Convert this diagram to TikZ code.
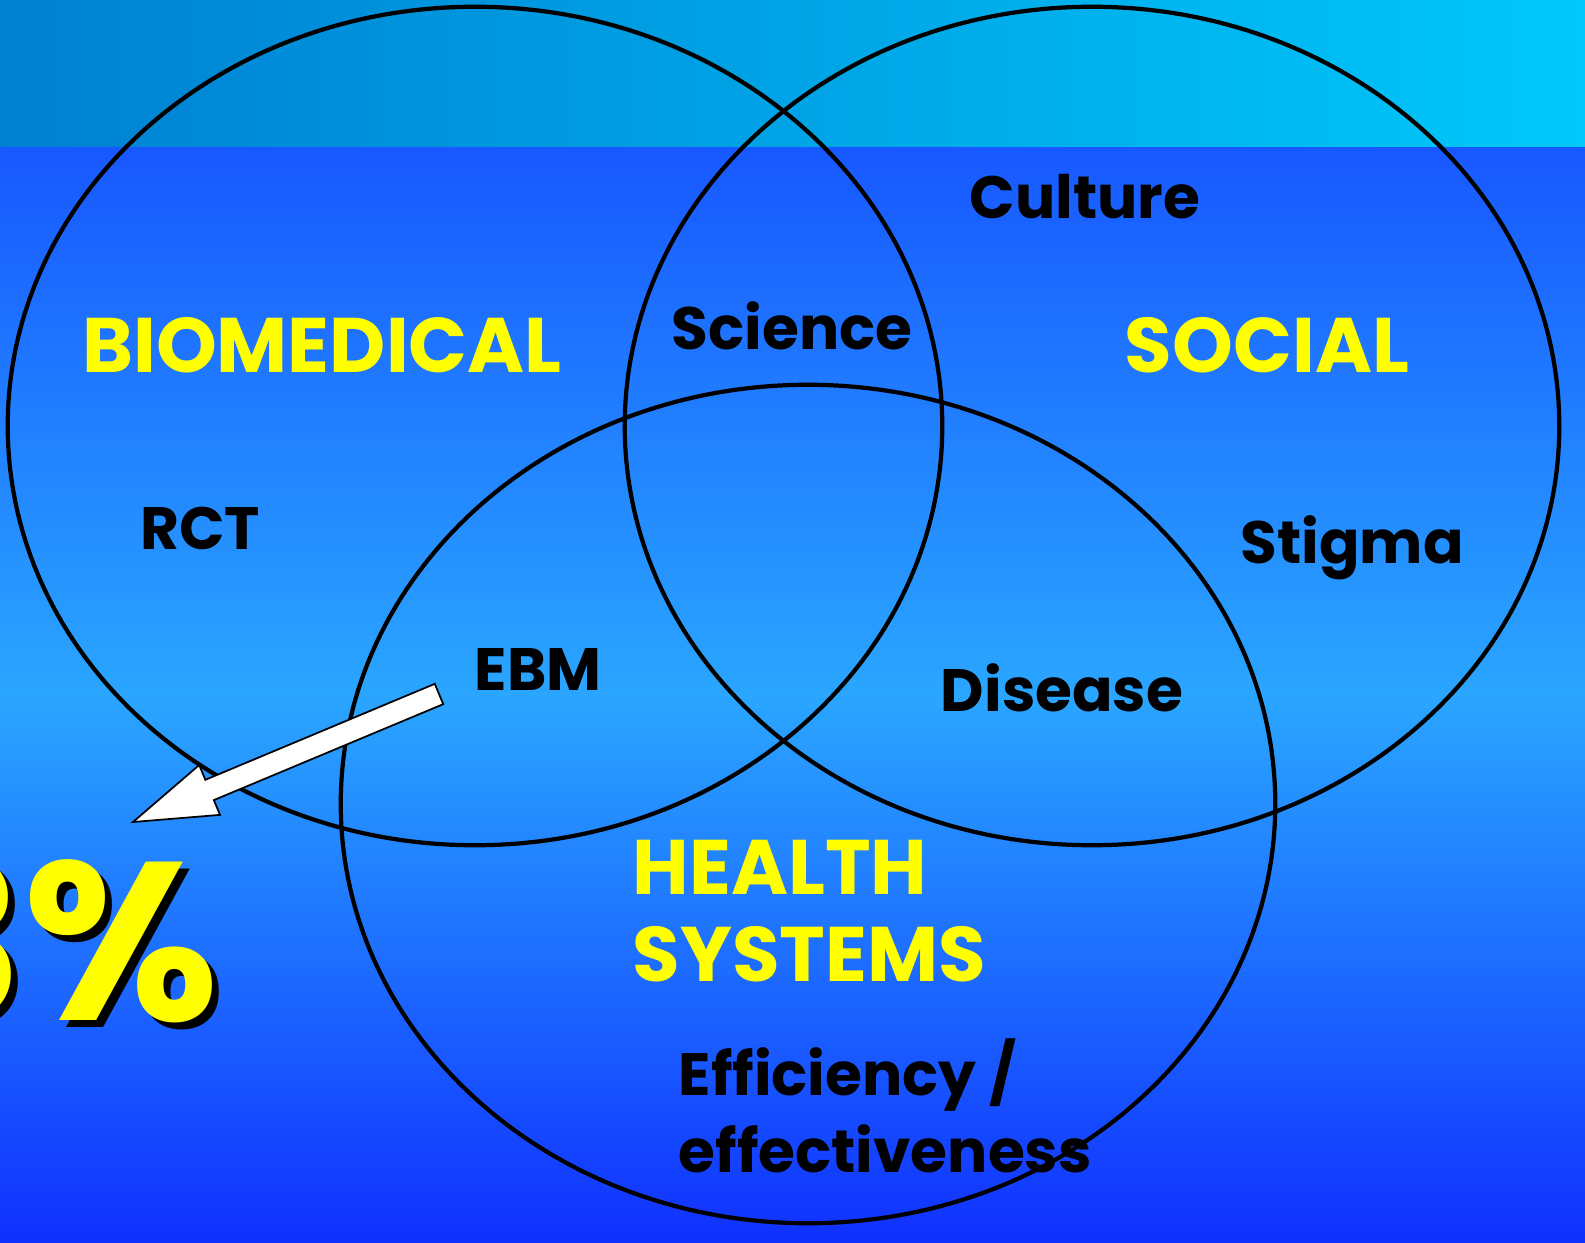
\documentclass[tikz,border=0pt]{standalone}
\usepackage{fontspec}
\setmainfont{Poppins}
\usetikzlibrary{calc,shapes.geometric}
\definecolor{bandleft}{RGB}{0,128,210}
\definecolor{bandright}{RGB}{0,200,250}
\definecolor{skytop}{RGB}{24,88,255}
\definecolor{skymid}{RGB}{42,166,255}
\definecolor{skybot}{RGB}{16,48,255}
\definecolor{sun}{RGB}{255,255,0}
\tikzset{
    ring/.style={draw=black, line width=1.2pt, ellipse, inner sep=0pt,
        minimum width=9.34cm, minimum height=8.38cm},
    topic/.style={font=\bfseries\fontsize{17}{21.8}\selectfont, text=black, inner sep=0pt, align=left},
    field/.style={font=\bfseries\fontsize{22}{24.6}\selectfont, text=sun, inner sep=0pt, align=left},
    sharetext/.style={font=\bfseries\fontsize{64}{68}\selectfont, inner sep=0pt},
}
\begin{document}
\begin{tikzpicture}[x=0.01cm, y=-0.01cm]
    \useasboundingbox (0,0) rectangle (1585,1243);
    \clip (0,0) rectangle (1585,1243);
    %% background
    \shade[left color=bandleft, right color=bandright] (0,0) rectangle (1585,148);
    \shade[top color=skytop, bottom color=skybot, middle color=skymid] (0,148) rectangle (1585,1243);
    %% circles
    \node[ring] (bio) at (475,426) {};
    \node[ring] (soc) at (1092,426) {};
    \node[ring] (hs) at (808,804) {};
    %% fields
    \node[field] (biolabel) at (322,345) {BIOMEDICAL};
    \node[field] (soclabel) at (1267,345) {SOCIAL};
    \node[field, anchor=west] (hslabel) at (632,911) {HEALTH\\SYSTEMS};
    %% topics
    \node[topic] (culture) at (1085,197) {Culture};
    \node[topic] (science) at (792,326) {Science};
    \node[topic] (rct) at (200,528) {RCT};
    \node[topic] (stigma) at (1352,548) {Stigma};
    \node[topic] (ebm) at (538,670) {EBM};
    \node[topic] (disease) at (1062,688) {Disease};
    \node[topic, anchor=west] (eff) at (678,1106) {Efficiency /\\effectiveness};
    %% share
    \node[sharetext, text=black, anchor=base east] (shareshadow) at (227,1027) {3\%};
    \node[sharetext, text=sun, anchor=base east] (share) at (220,1020) {3\%};
    %% pointer
    \coordinate (tailpt) at (439,694);
    \coordinate (tippt) at (133,822);
    \coordinate (headpt) at ($(tippt)!0.83cm!(tailpt)$);
    \draw[fill=white, line width=0.5pt]
    ($(tailpt)!0.11cm!90:(tippt)$) -- ($(headpt)!0.11cm!90:(tippt)$)
    -- ($(headpt)!0.27cm!90:(tippt)$) -- (tippt)
    -- ($(headpt)!0.27cm!-90:(tippt)$) -- ($(headpt)!0.11cm!-90:(tippt)$)
    -- ($(tailpt)!0.11cm!-90:(tippt)$) -- cycle;
\end{tikzpicture}
\end{document}
